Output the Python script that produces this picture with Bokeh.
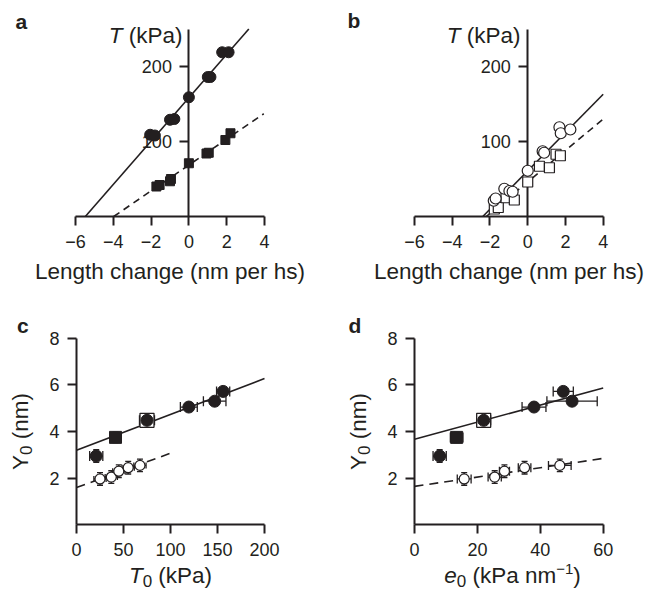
import numpy as np
from bokeh.plotting import figure
from bokeh.models import Range1d, FixedTicker, Label, Whisker, TeeHead, ColumnDataSource
from bokeh.layouts import row, column
from bokeh.embed import file_html
from bokeh.resources import INLINE

FONT = "Liberation Sans"
INK = "#231f20"

# ---------------- data ----------------
# panel a (filled symbols)
a_circ_x = [-2.05, -1.8, -1.0, -0.77, 0.0, 1.0, 1.14, 1.76, 2.1]
a_circ_y = [109, 108, 129, 130, 159, 186, 186, 219, 219]
a_sq_x = [-1.72, -1.55, -1.0, -0.95, 0.0, 0.93, 1.05, 1.93, 2.2]
a_sq_y = [40, 42, 47, 50, 71, 84, 85, 102, 111]
a_fit_solid_x = [-5.48, 3.17]
a_fit_solid_y = [0, 250]
a_fit_dash_x = [-3.98, 3.96]
a_fit_dash_y = [0, 137]

# panel b (open symbols)
b_circ_x = [-1.8, -1.7, -1.24, -0.97, -0.8, 0.0, 0.79, 0.87, 1.68, 1.75, 2.26]
b_circ_y = [21, 24, 37, 34, 33, 61, 87, 85, 119, 111, 116]
b_sq_x = [-1.77, -1.56, -1.15, -0.71, 0.0, 0.62, 1.15, 1.5, 1.73]
b_sq_y = [10, 12, 25, 22, 46, 67, 65, 83, 81]
b_fit_solid_x = [-2.38, 4.0]
b_fit_solid_y = [0, 163]
b_fit_dash_x = [-2.2, 4.0]
b_fit_dash_y = [0, 130]

length_ticks = [-6, -4, -2, 0, 2, 4]
tension_ticks = [100, 200]

# panel c
c_fill_x = [21, 41.5, 75, 119.5, 147, 156]
c_fill_y = [2.95, 3.75, 4.48, 5.05, 5.3, 5.72]
c_fill_xerr = [7, 6, 8, 9, 12, 7]
c_fill_yerr = [0.27, 0.22, 0.12, 0.05, 0.05, 0.15]
c_fill_marker = ["circle", "square", "circle", "circle", "circle", "circle"]
c_box_x = [75]
c_box_y = [4.48]
c_open_x = [25, 37, 45, 55, 67.5]
c_open_y = [1.97, 2.05, 2.3, 2.45, 2.55]
c_open_xerr = [6.5, 6.5, 6.5, 6.5, 6.5]
c_open_yerr = [0.27, 0.27, 0.27, 0.27, 0.27]
c_fit_solid_x = [0, 200]
c_fit_solid_y = [3.2, 6.27]
c_fit_dash_x = [0, 100]
c_fit_dash_y = [1.6, 3.07]

# panel d
d_fill_x = [8.0, 13.4, 22.0, 38.0, 47.3, 50.1]
d_fill_y = [2.95, 3.75, 4.48, 5.05, 5.72, 5.3]
d_fill_xerr = [2.1, 2.0, 2.2, 3.8, 3.2, 8.0]
d_fill_yerr = [0.27, 0.22, 0.12, 0.05, 0.1, 0.05]
d_fill_marker = ["circle", "square", "circle", "circle", "circle", "circle"]
d_box_x = [22.0]
d_box_y = [4.48]
d_open_x = [15.8, 25.5, 28.6, 35.0, 46.2]
d_open_y = [1.97, 2.05, 2.3, 2.45, 2.55]
d_open_xerr = [2.2, 2.1, 1.6, 2.0, 3.6]
d_open_yerr = [0.27, 0.27, 0.27, 0.27, 0.27]
d_fit_solid_x = [0, 60]
d_fit_solid_y = [3.67, 5.87]
d_fit_dash_x = [0, 60]
d_fit_dash_y = [1.65, 2.85]

t0_ticks = [0, 50, 100, 150, 200]
e0_ticks = [0, 20, 40, 60]
y0_ticks = [2, 4, 6, 8]

# ---------------- helpers ----------------
WID = {'T': 611, 'Y': 667, 'e': 556, '0': 556, ' ': 278, '(': 333, ')': 333, 'k': 500,
       'P': 667, 'a': 556, 'n': 556, 'm': 833, '\u2212': 584, '1': 556}
LBL = 22.5   # axis-label font size
SUB = 17     # subscript / superscript size
BASEFIX = 0.36  # empirical shift of the rendered alphabetic baseline (fraction of font size)


def tw(s, size):
    return sum(WID.get(ch, 556) for ch in s) * size / 1000.0


class Panel:
    """A figure whose frame fills the whole canvas; axes sit at fixed data locations."""

    def __init__(self, w, h, xa, xb, pxa, pxb, ya, yb, pya, pyb, xticks, yticks, yaxis_at, xlabel=None):
        self.kx = (pxb - pxa) / (xb - xa)
        self.ky = (pyb - pya) / (yb - ya)
        self.xa, self.pxa, self.ya, self.pya = xa, pxa, ya, pya
        x0, x1 = self.fx(0), self.fx(w)
        y0, y1 = self.fy(h), self.fy(0)
        p = figure(width=w, height=h, x_range=Range1d(x0, x1), y_range=Range1d(y0, y1),
                   output_backend="svg", toolbar_location=None,
                   min_border_left=0, min_border_right=0, min_border_top=0, min_border_bottom=0)
        p.outline_line_color = None
        p.grid.visible = False
        p.border_fill_color = "white"
        p.background_fill_color = "white"
        xax, yax = p.xaxis[0], p.yaxis[0]
        xax.fixed_location = ya
        xax.bounds = (xa, xb)
        yax.fixed_location = yaxis_at
        yax.bounds = (ya, yb)
        for ax in (xax, yax):
            ax.axis_line_color = INK
            ax.axis_line_width = 2
            ax.major_tick_line_color = INK
            ax.major_tick_line_width = 2
            ax.major_tick_out = 9
            ax.major_tick_in = 0
            ax.minor_tick_line_color = None
            ax.major_label_text_font = FONT
            ax.major_label_text_font_size = "18px"
            ax.major_label_text_color = INK
            ax.major_label_standoff = 8
            ax.axis_label_text_font = FONT
            ax.axis_label_text_font_size = f"{LBL}px"
            ax.axis_label_text_font_style = "normal"
            ax.axis_label_text_color = INK
        xax.major_label_standoff = 9
        xax.ticker = FixedTicker(ticks=xticks)
        yax.ticker = FixedTicker(ticks=yticks)
        xax.major_label_overrides = {t: (f"\u2212{abs(t)}" if t < 0 else str(t)) for t in xticks}
        if xlabel:
            xax.axis_label = xlabel
            xax.axis_label_standoff = 8
        self.p = p

    def fx(self, px):
        return self.xa + (px - self.pxa) / self.kx

    def fy(self, py):
        return self.ya + (py - self.pya) / self.ky

    def text(self, s, px, py, size, style="normal", angle=0.0):
        fix = BASEFIX * size
        if angle == 0:
            py = py - fix
        else:
            px = px - fix
        self.p.add_layout(Label(x=self.fx(px), y=self.fy(py), text=s, text_font=FONT,
                                text_font_size=f"{size}px", text_font_style=style, text_color=INK,
                                text_align="left", text_baseline="alphabetic", angle=angle))

    def compose(self, pieces, px, py, align="center", rotated=False):
        # pieces: (text, size, style, rise_px, gap_before_px)
        total = sum(tw(t, s) + g for t, s, st, r, g in pieces)
        pos = {"center": -total / 2, "left": 0.0, "right": -total}[align]
        for t, s, st, r, g in pieces:
            pos += g
            if not rotated:
                self.text(t, px + pos, py - r, s, st)
            else:
                self.text(t, px - r, py - pos, s, st, angle=np.pi / 2)
            pos += tw(t, s)

    def errbars(self, x, y, xerr, yerr, cap_x=10, cap_y=6, lw=1.3):
        x = np.asarray(x, float); y = np.asarray(y, float)
        xe = np.asarray(xerr, float); ye = np.asarray(yerr, float)
        src = ColumnDataSource(dict(x=x, y=y, xl=x - xe, xh=x + xe, yl=y - ye, yh=y + ye))
        self.p.add_layout(Whisker(source=src, base="y", lower="xl", upper="xh", dimension="width",
                                  line_color=INK, line_width=lw,
                                  upper_head=TeeHead(size=cap_x, line_color=INK, line_width=lw),
                                  lower_head=TeeHead(size=cap_x, line_color=INK, line_width=lw)))
        self.p.add_layout(Whisker(source=src, base="x", lower="yl", upper="yh", dimension="height",
                                  line_color=INK, line_width=lw,
                                  upper_head=TeeHead(size=cap_y, line_color=INK, line_width=lw),
                                  lower_head=TeeHead(size=cap_y, line_color=INK, line_width=lw)))


T_KPA = [("T", LBL, "italic", 0, 0), ("(kPa)", LBL, "normal", 0, tw(" ", LBL))]

# ---------------- panel a ----------------
A = Panel(330, 300, -6, 4, 75, 264, 0, 250, 216, 28.5, length_ticks, tension_ticks, 0,
          xlabel="Length change (nm per hs)")
pa = A.p
pa.line(a_fit_solid_x, a_fit_solid_y, line_color=INK, line_width=1.6)
pa.line(a_fit_dash_x, a_fit_dash_y, line_color=INK, line_width=1.6, line_dash="7 5")
pa.scatter(a_circ_x, a_circ_y, marker="circle", size=11, fill_color=INK, line_color=INK, level="overlay")
pa.scatter(a_sq_x, a_sq_y, marker="square", size=9, fill_color=INK, line_color=INK, level="overlay")
A.compose(T_KPA, 182, 43, align="right")
A.text("a", 15, 29, 21, "bold")

# ---------------- panel b ----------------
B = Panel(318, 300, -6, 4, 84, 272.7, 0, 250, 216, 28.5, length_ticks, tension_ticks, 0,
          xlabel="Length change (nm per hs)")
pb = B.p
pb.line(b_fit_solid_x, b_fit_solid_y, line_color=INK, line_width=1.6)
pb.line(b_fit_dash_x, b_fit_dash_y, line_color=INK, line_width=1.6, line_dash="7 5")
pb.scatter(b_sq_x, b_sq_y, marker="square", size=10, fill_color="white", line_color=INK,
           line_width=1.2, level="overlay")
pb.scatter(b_circ_x, b_circ_y, marker="circle", size=11, fill_color="white", line_color=INK,
           line_width=1.2, level="overlay")
B.compose(T_KPA, 190, 43, align="right")
B.text("b", 17, 27.5, 21, "bold")

# ---------------- panel c ----------------
C = Panel(330, 292, 0, 200, 76, 264, 0, 8, 224.4, 37.7, t0_ticks, y0_ticks, 0)
pc = C.p
pc.line(c_fit_solid_x, c_fit_solid_y, line_color=INK, line_width=1.6)
pc.line(c_fit_dash_x, c_fit_dash_y, line_color=INK, line_width=1.6, line_dash="9 6")
C.errbars(c_fill_x, c_fill_y, c_fill_xerr, c_fill_yerr)
C.errbars(c_open_x, c_open_y, c_open_xerr, c_open_yerr, cap_x=6)
pc.scatter(c_box_x, c_box_y, marker="square", size=14, fill_color="white", line_color=INK,
           line_width=1.3, level="overlay")
pc.scatter(c_fill_x, c_fill_y, marker=c_fill_marker, size=12, fill_color=INK, line_color=INK,
           level="overlay")
pc.scatter(c_open_x, c_open_y, marker="circle", size=10, fill_color="white", line_color=INK,
           line_width=1.2, level="overlay")
C.compose([("T", LBL, "italic", 0, 0), ("0", SUB, "normal", -3.5, 0),
           ("(kPa)", LBL, "normal", 0, tw(" ", LBL))], 170, 283)
C.compose([("Y", LBL, "normal", 0, 0), ("0", SUB, "normal", -3.5, 0),
           ("(nm)", LBL, "normal", 0, tw(" ", LBL))], 28, 131, rotated=True)
C.text("c", 16.5, 32.3, 21, "bold")

# ---------------- panel d ----------------
D = Panel(318, 292, 0, 60, 84, 272.7, 0, 8, 224.4, 37.7, e0_ticks, y0_ticks, 0)
pd_ = D.p
pd_.line(d_fit_solid_x, d_fit_solid_y, line_color=INK, line_width=1.6)
pd_.line(d_fit_dash_x, d_fit_dash_y, line_color=INK, line_width=1.6, line_dash="9 6")
D.errbars(d_fill_x, d_fill_y, d_fill_xerr, d_fill_yerr)
D.errbars(d_open_x, d_open_y, d_open_xerr, d_open_yerr, cap_x=9)
pd_.scatter(d_box_x, d_box_y, marker="square", size=14, fill_color="white", line_color=INK,
            line_width=1.3, level="overlay")
pd_.scatter(d_fill_x, d_fill_y, marker=d_fill_marker, size=12, fill_color=INK, line_color=INK,
            level="overlay")
pd_.scatter(d_open_x, d_open_y, marker="circle", size=10, fill_color="white", line_color=INK,
            line_width=1.2, level="overlay")
D.compose([("e", LBL, "italic", 0, 0), ("0", SUB, "normal", -3.5, 0),
           ("(kPa nm", LBL, "normal", 0, tw(" ", LBL)), ("\u22121", 15, "normal", 9, 0),
           (")", LBL, "normal", 0, 0)], 182, 283)
D.compose([("Y", LBL, "normal", 0, 0), ("0", SUB, "normal", -3.5, 0),
           ("(nm)", LBL, "normal", 0, tw(" ", LBL))], 36, 131, rotated=True)
D.text("d", 18, 33, 21, "bold")

layout = column(row(pa, pb), row(pc, pd_))
open("out.html", "w").write(file_html(layout, INLINE))
